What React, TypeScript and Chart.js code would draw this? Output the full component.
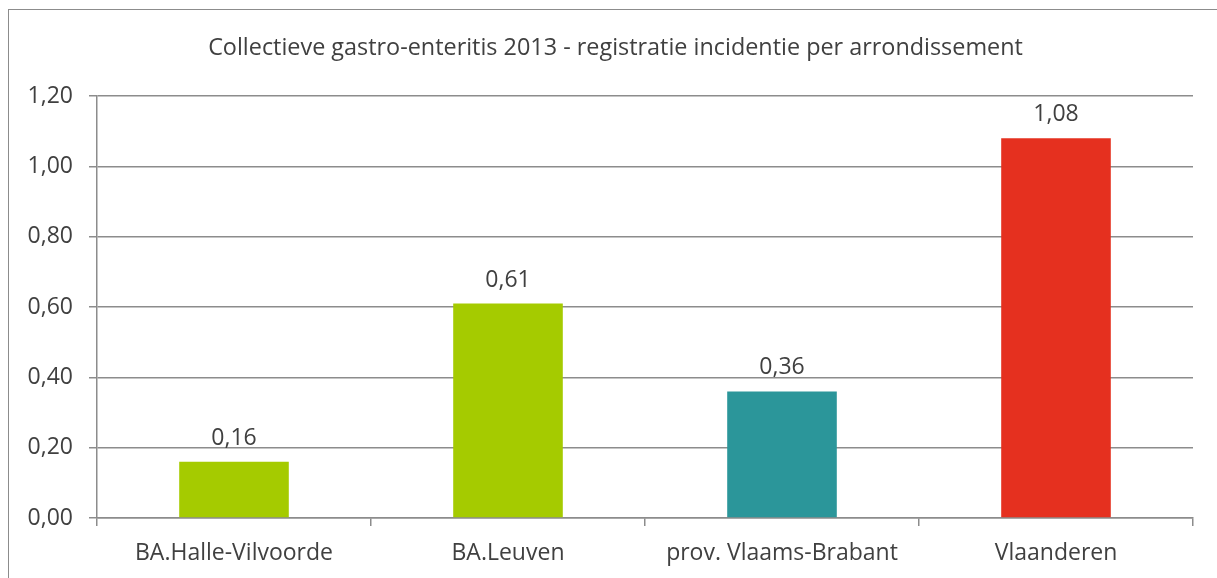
import React, { useEffect, useRef } from "react";
import { Chart, registerables } from "chart.js";

Chart.register(...registerables);

const categories = ["BA.Halle-Vilvoorde", "BA.Leuven", "prov. Vlaams-Brabant", "Vlaanderen"];
const values = [0.16, 0.61, 0.36, 1.08];
const barColors = ["#A5CB00", "#A5CB00", "#2B969A", "#E5301F"];
const titleText = "Collectieve gastro-enteritis 2013 - registratie incidentie per arrondissement";
const yMin = 0;
const yMax = 1.2;
const yStep = 0.2;

const FONT = "'Open Sans', Lato, sans-serif";
const TEXT = "#404040";
const GRID = "#8c8c8c";

const fmt = (v: number) => v.toFixed(2).replace(".", ",");

const valueLabels = {
  id: "valueLabels",
  afterDatasetsDraw(chart: any) {
    const ctx = chart.ctx;
    const meta = chart.getDatasetMeta(0);
    ctx.save();
    ctx.font = `23px ${FONT}`;
    ctx.fillStyle = TEXT;
    ctx.textAlign = "center";
    ctx.textBaseline = "bottom";
    meta.data.forEach((bar: any, i: number) => {
      ctx.fillText(fmt(values[i]), bar.x, bar.y - 12);
    });
    ctx.restore();
  },
};

const chartTitle = {
  id: "chartTitle",
  afterDraw(chart: any) {
    const ctx = chart.ctx;
    ctx.save();
    ctx.font = `23.4px ${FONT}`;
    ctx.fillStyle = TEXT;
    ctx.textAlign = "center";
    ctx.textBaseline = "middle";
    ctx.fillText(titleText, chart.width / 2 + 3, 40);
    ctx.restore();
  },
};

export default function App() {
  const ref = useRef<HTMLCanvasElement | null>(null);

  useEffect(() => {
    document.body.style.overflow = "hidden";
    const chart = new Chart(ref.current!, {
      type: "bar",
      data: {
        labels: categories,
        datasets: [
          {
            data: values,
            backgroundColor: barColors,
            borderWidth: 0,
            barPercentage: 0.4,
            categoryPercentage: 1,
          },
        ],
      },
      options: {
        animation: false,
        responsive: false,
        maintainAspectRatio: false,
        layout: { padding: { top: 88, right: 24, bottom: 0, left: 0 } },
        plugins: {
          legend: { display: false },
          tooltip: { enabled: false },
          title: { display: false },
        },
        scales: {
          x: {
            offset: true,
            grid: {
              display: true,
              offset: true,
              drawOnChartArea: false,
              drawTicks: true,
              tickLength: 8,
              color: GRID,
              lineWidth: 1.5,
            },
            border: { display: true, color: GRID, width: 1.5 },
            ticks: {
              color: TEXT,
              font: { family: FONT, size: 23 },
              padding: 14,
              maxRotation: 0,
            },
            afterFit(scale: any) {
              scale.height = 60;
            },
          },
          y: {
            min: yMin,
            max: yMax,
            grid: {
              color: GRID,
              lineWidth: 1.5,
              drawTicks: true,
              tickLength: 8,
            },
            border: { display: true, color: GRID, width: 1.5 },
            ticks: {
              stepSize: yStep,
              color: TEXT,
              font: { family: FONT, size: 23 },
              padding: 16,
              callback: (v: any) => fmt(Number(v)),
            },
            afterFit(scale: any) {
              scale.width = 89;
            },
          },
        },
      },
      plugins: [valueLabels, chartTitle],
    });
    return () => chart.destroy();
  }, []);

  return (
    <>
      <canvas ref={ref} width={1209} height={570} style={{ display: "block", width: 1209, height: 570 }} />
      <div
        style={{
          position: "fixed",
          left: 8,
          top: 9,
          width: 1300,
          height: 700,
          border: "1.5px solid #8c8c8c",
          pointerEvents: "none",
        }}
      />
    </>
  );
}
